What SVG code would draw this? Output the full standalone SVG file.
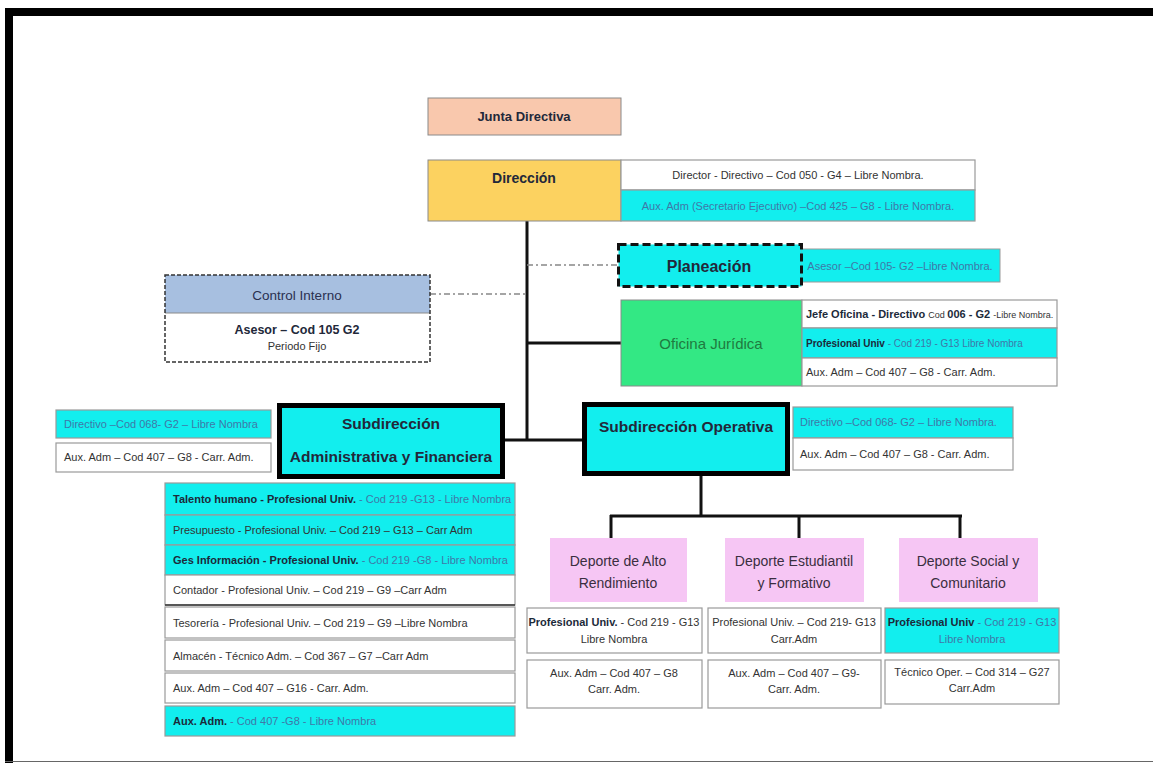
<svg xmlns="http://www.w3.org/2000/svg" width="1153" height="763" viewBox="0 0 1153 763">
<style>
.box{stroke:#8a8a8a;stroke-width:1}
.row{stroke:#9a9a9a;stroke-width:1.2}
.cy{fill:#12eeee}
.wh{fill:#ffffff}
.thick{stroke:#000;stroke-width:5}
.h{font-family:"Liberation Sans",Arial,sans-serif;font-weight:bold;fill:#22283a;text-anchor:middle}
.n{font-family:"Liberation Sans Narrow","Liberation Sans",Arial,sans-serif;font-size:11px;fill:#333}
.c{text-anchor:middle}
.b{font-weight:bold;fill:#1c2a3a}
.f{fill:#3f78a8}
.dep{font-family:"Liberation Sans",Arial,sans-serif;font-size:14px;fill:#3a2e40;text-anchor:middle}
.conn{stroke:#111;stroke-width:3;fill:none}
.dd{stroke:#888;stroke-width:1.5;stroke-dasharray:6 3 2 3;fill:none}
</style>
<rect x="0" y="0" width="1153" height="763" fill="#ffffff"/>
<g id="frame">
<rect x="5" y="8" width="1148" height="8" fill="#000"/>
<rect x="5" y="8" width="8" height="755" fill="#000"/>
<line x1="5" y1="761.5" x2="1153" y2="761.5" stroke="#666" stroke-width="1"/>
</g>

<g id="connectors">
<line class="conn" x1="527" y1="221" x2="527" y2="441"/>
<line class="conn" x1="505" y1="440" x2="582" y2="440"/>
<line class="conn" x1="527" y1="343" x2="621" y2="343"/>
<line class="dd" x1="527" y1="265" x2="617" y2="265"/>
<line class="dd" x1="430" y1="294" x2="527" y2="294"/>
<line class="conn" x1="701" y1="476" x2="701" y2="516"/>
<line class="conn" x1="610" y1="516" x2="962" y2="516"/>
<line class="conn" x1="611" y1="515" x2="611" y2="540"/>
<line class="conn" x1="799" y1="515" x2="799" y2="540"/>
<line class="conn" x1="960" y1="515" x2="960" y2="540"/>
</g>

<g id="junta">
<rect class="box" x="428" y="98" width="193" height="37" fill="#f9c8ad"/>
<text class="h" x="524" y="121" font-size="13">Junta Directiva</text>
</g>

<g id="direccion">
<rect class="box" x="428" y="160" width="193" height="61" fill="#fcd260"/>
<text class="h" x="524" y="183" font-size="14">Dirección</text>
<rect class="row wh" x="621" y="160" width="354" height="30"/>
<text class="n c" x="798" y="179">Director - Directivo – Cod 050 - G4 – Libre Nombra.</text>
<rect class="row cy" x="621" y="190" width="354" height="31"/>
<text class="n c f" x="798" y="210">Aux. Adm (Secretario Ejecutivo) –Cod 425 – G8 - Libre Nombra.</text>
</g>

<g id="planeacion">
<rect x="801" y="249" width="199" height="33" class="cy" stroke="#9a9a9a" stroke-width="1"/>
<text class="n c f" x="900" y="270">Asesor –Cod 105- G2 –Libre Nombra.</text>
<rect x="618.5" y="244.5" width="183" height="42" class="cy" stroke="#111" stroke-width="3" stroke-dasharray="8 4"/>
<text class="h" x="709" y="272" font-size="16">Planeación</text>
</g>

<g id="control-interno">
<rect x="165" y="275" width="265" height="38" fill="#a7bfe0"/>
<rect x="165" y="313" width="265" height="49" fill="#ffffff"/>
<line x1="165" y1="313" x2="430" y2="313" stroke="#8a8a8a" stroke-width="1"/>
<rect x="165" y="275" width="265" height="87" fill="none" stroke="#333" stroke-width="1.5" stroke-dasharray="4 2"/>
<text x="297" y="300" font-family="Liberation Sans,Arial,sans-serif" font-size="13.5" fill="#2a3050" text-anchor="middle">Control Interno</text>
<text x="297" y="334" font-family="Liberation Sans Narrow,Liberation Sans,Arial,sans-serif" font-size="12.5" font-weight="bold" fill="#22283a" text-anchor="middle">Asesor – Cod 105  G2</text>
<text x="297" y="350" font-family="Liberation Sans Narrow,Liberation Sans,Arial,sans-serif" font-size="11" fill="#333" text-anchor="middle">Periodo Fijo</text>
</g>

<g id="oficina-juridica">
<rect class="box" x="621" y="300" width="181" height="86" fill="#33e884"/>
<text x="711" y="349" font-family="Liberation Sans,Arial,sans-serif" font-size="15" fill="#1f7a40" text-anchor="middle">Oficina Jurídica</text>
<rect class="row wh" x="802" y="300" width="255" height="28"/>
<text class="n" x="806" y="318"><tspan class="b">Jefe Oficina - Directivo </tspan><tspan font-size="9">Cod </tspan><tspan class="b">006 - G2 </tspan><tspan font-size="9">-Libre Nombra.</tspan></text>
<rect class="row cy" x="802" y="328" width="255" height="30"/>
<text class="n" x="806" y="347"><tspan class="b" font-size="10">Profesional Univ </tspan><tspan class="f" font-size="10"> - Cod 219 - G13 Libre Nombra</tspan></text>
<rect class="row wh" x="802" y="358" width="255" height="28"/>
<text class="n" x="806" y="376" font-size="10">Aux. Adm – Cod 407 – G8  - Carr. Adm.</text>
</g>

<g id="subdir-administrativa">
<rect class="thick cy" x="279.5" y="405.5" width="223" height="71"/>
<text class="h" x="391" y="429" font-size="15.5">Subdirección</text>
<text class="h" x="391" y="462" font-size="15.5">Administrativa y Financiera</text>
<rect class="row cy" x="56" y="410" width="215" height="28"/>
<text class="n f" x="64" y="428" font-size="10">Directivo –Cod 068- G2 – Libre Nombra</text>
<rect class="row wh" x="56" y="443" width="215" height="29"/>
<text class="n" x="64" y="461" font-size="10">Aux. Adm – Cod 407 – G8  - Carr. Adm.</text>
</g>

<g id="subdir-adm-cargos">
<rect class="row cy" x="165" y="483" width="350" height="32"/>
<text class="n" x="173" y="503" font-size="10.5"><tspan class="b">Talento humano - Profesional Univ.</tspan><tspan class="f"> - Cod 219 -G13 - Libre Nombra</tspan></text>
<rect class="row cy" x="165" y="515" width="350" height="30"/>
<text class="n" x="173" y="534" fill="#2a3a50">Presupuesto - Profesional Univ.  – Cod 219 – G13 – Carr Adm</text>
<rect class="row cy" x="165" y="545" width="350" height="30"/>
<text class="n" x="173" y="564" font-size="10.5"><tspan class="b">Ges Información - Profesional Univ.</tspan><tspan class="f"> - Cod 219 -G8 - Libre Nombra</tspan></text>
<rect class="row wh" x="165" y="575" width="350" height="30"/>
<line x1="165" y1="605" x2="515" y2="605" stroke="#333" stroke-width="1.5"/>
<text class="n" x="173" y="594">Contador - Profesional Univ. – Cod 219 – G9 –Carr Adm</text>
<rect class="row wh" x="165" y="607" width="350" height="31"/>
<text class="n" x="173" y="627">Tesorería - Profesional Univ. – Cod 219 – G9 –Libre Nombra</text>
<rect class="row wh" x="165" y="640" width="350" height="31"/>
<text class="n" x="173" y="660">Almacén - Técnico Adm. – Cod 367 – G7 –Carr Adm</text>
<rect class="row wh" x="165" y="673" width="350" height="30"/>
<text class="n" x="173" y="692" font-size="10">Aux. Adm – Cod 407 – G16  - Carr. Adm.</text>
<rect class="row cy" x="165" y="706" width="350" height="30"/>
<text class="n" x="173" y="725" font-size="10.5"><tspan class="b">Aux. Adm.</tspan><tspan class="f"> - Cod 407 -G8 - Libre Nombra</tspan></text>
</g>

<g id="subdir-operativa">
<rect class="thick cy" x="584.5" y="404.5" width="203" height="69"/>
<text class="h" x="686" y="432" font-size="15.5">Subdirección Operativa</text>
<rect class="row cy" x="793" y="407" width="220" height="31"/>
<text class="n f" x="800" y="426">Directivo –Cod 068- G2 – Libre Nombra.</text>
<rect class="row wh" x="793" y="438" width="220" height="32"/>
<text class="n" x="800" y="458">Aux. Adm – Cod 407 – G8  - Carr. Adm.</text>
</g>

<g id="deporte-alto">
<rect x="550" y="538" width="137" height="64" fill="#f6c6f4"/>
<text class="dep" x="618" y="566">Deporte de Alto</text>
<text class="dep" x="618" y="588">Rendimiento</text>
<rect class="row wh" x="527" y="608" width="175" height="45"/>
<text class="n c" x="614" y="626" font-size="10.5"><tspan class="b">Profesional Univ.</tspan> - Cod 219 - G13</text>
<text class="n c" x="614" y="643" font-size="10.5">Libre Nombra</text>
<rect class="row wh" x="527" y="660" width="175" height="48"/>
<text class="n c" x="614" y="677">Aux. Adm – Cod 407 – G8</text>
<text class="n c" x="614" y="693">Carr. Adm.</text>
</g>

<g id="deporte-estudiantil">
<rect x="725" y="538" width="139" height="64" fill="#f6c6f4"/>
<text class="dep" x="794" y="566">Deporte Estudiantil</text>
<text class="dep" x="794" y="588">y Formativo</text>
<rect class="row wh" x="708" y="608" width="173" height="45"/>
<text class="n c" x="794" y="626" font-size="10">Profesional Univ. – Cod 219- G13</text>
<text class="n c" x="794" y="643" font-size="10">Carr.Adm</text>
<rect class="row wh" x="708" y="660" width="173" height="48"/>
<text class="n c" x="794" y="677">Aux. Adm – Cod 407 – G9-</text>
<text class="n c" x="794" y="693">Carr. Adm.</text>
</g>

<g id="deporte-social">
<rect x="899" y="538" width="139" height="64" fill="#f6c6f4"/>
<text class="dep" x="968" y="566">Deporte Social y</text>
<text class="dep" x="968" y="588">Comunitario</text>
<rect class="row cy" x="885" y="608" width="174" height="45"/>
<text class="n c" x="972" y="626" font-size="10.5"><tspan class="b">Profesional Univ</tspan><tspan class="f"> - Cod 219 - G13</tspan></text>
<text class="n c f" x="972" y="643" font-size="10.5">Libre Nombra</text>
<rect class="row wh" x="885" y="660" width="174" height="44"/>
<text class="n c" x="972" y="676" font-size="10">Técnico Oper. – Cod 314 – G27</text>
<text class="n c" x="972" y="692" font-size="10">Carr.Adm</text>
</g>
</svg>
